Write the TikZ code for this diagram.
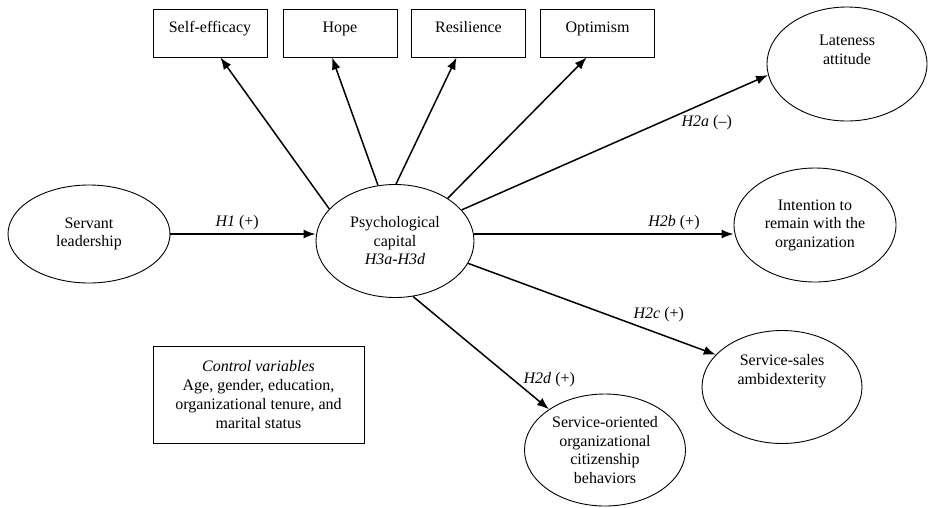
\documentclass[tikz,border=0pt]{standalone}
\usepackage{fontspec}
\setmainfont{Liberation Serif}
\usetikzlibrary{arrows.meta, shapes.geometric}
\tikzset{
	construct/.style={draw, ellipse, line width=0.9pt, inner sep=0pt, align=center},
	dimbox/.style={draw, rectangle, line width=0.9pt, minimum width=114pt, minimum height=48pt, text height=12pt, text depth=14pt},
	hyp/.style={-{Latex[length=12pt,width=9pt]}, line width=1.5pt},
}
\begin{document}
\begin{tikzpicture}[x=1pt, y=-1pt, every node/.style={font=\fontsize{16pt}{18.5pt}\selectfont}]
	\useasboundingbox (0,0) rectangle (928,507);
	% constructs
	\node[construct, minimum width=162pt, minimum height=98pt] (servant) at (89,234) {Servant\\leadership};
	\node[construct, minimum width=158pt, minimum height=113pt] (psycap) at (395,241) {Psychological\\capital\\\textit{H3a-H3d}};
	\node[construct, minimum width=160pt, minimum height=114pt, label={[align=center, yshift=14pt]center:Lateness\\attitude}] (late) at (847,64) {};
	\node[construct, minimum width=162pt, minimum height=114pt] (remain) at (815,225) {Intention to\\remain with the\\organization};
	\node[construct, minimum width=160pt, minimum height=113pt, label={[align=center, yshift=16pt]center:Service-sales\\ambidexterity}] (ambi) at (782,387) {};
	\node[construct, minimum width=161pt, minimum height=112pt] (socb) at (605,450) {Service-oriented\\organizational\\citizenship\\behaviors};
	% dimensions of psychological capital
	\node[dimbox] (selfeff) at (210,33) {Self-efficacy};
	\node[dimbox] (hope) at (340,33) {Hope};
	\node[dimbox] (resil) at (468.5,33) {Resilience};
	\node[dimbox] (optim) at (597.5,33) {Optimism};
	\node[draw, line width=0.9pt, minimum width=211pt, minimum height=97pt, align=center, font=\fontsize{16pt}{19.3pt}\selectfont] (controls) at (258.5,394.5) {\textit{Control variables}\\Age, gender, education,\\organizational tenure, and\\marital status};
	% paths
	\draw[hyp] (servant.east) -- (servant.east -| psycap.west) node[pos=0.46, above] {\textit{H1} (+)};
	\draw[hyp] (psycap.east |- servant.east) -- (remain.west |- servant.east) node[pos=0.77, above] {\textit{H2b} (+)};
	\draw[hyp] (psycap.154) -- (selfeff.-67);
	\draw[hyp] (psycap.107) -- (hope.-108);
	\draw[hyp] (psycap.89) -- (resil.-116);
	\draw[hyp] (psycap.39) -- (optim.-114);
	\draw[hyp] (psycap.25) -- (late.188) node[pos=0.8, below=9pt] {\textit{H2a} (--)};
	\draw[hyp] (psycap.-17) -- (ambi.154) node[pos=0.77, above=8pt] {\textit{H2c} (+)};
	\draw[hyp] (psycap.-72) -- (socb.144) node[pos=0.74, right=6pt] {\textit{H2d} (+)};
\end{tikzpicture}
\end{document}
